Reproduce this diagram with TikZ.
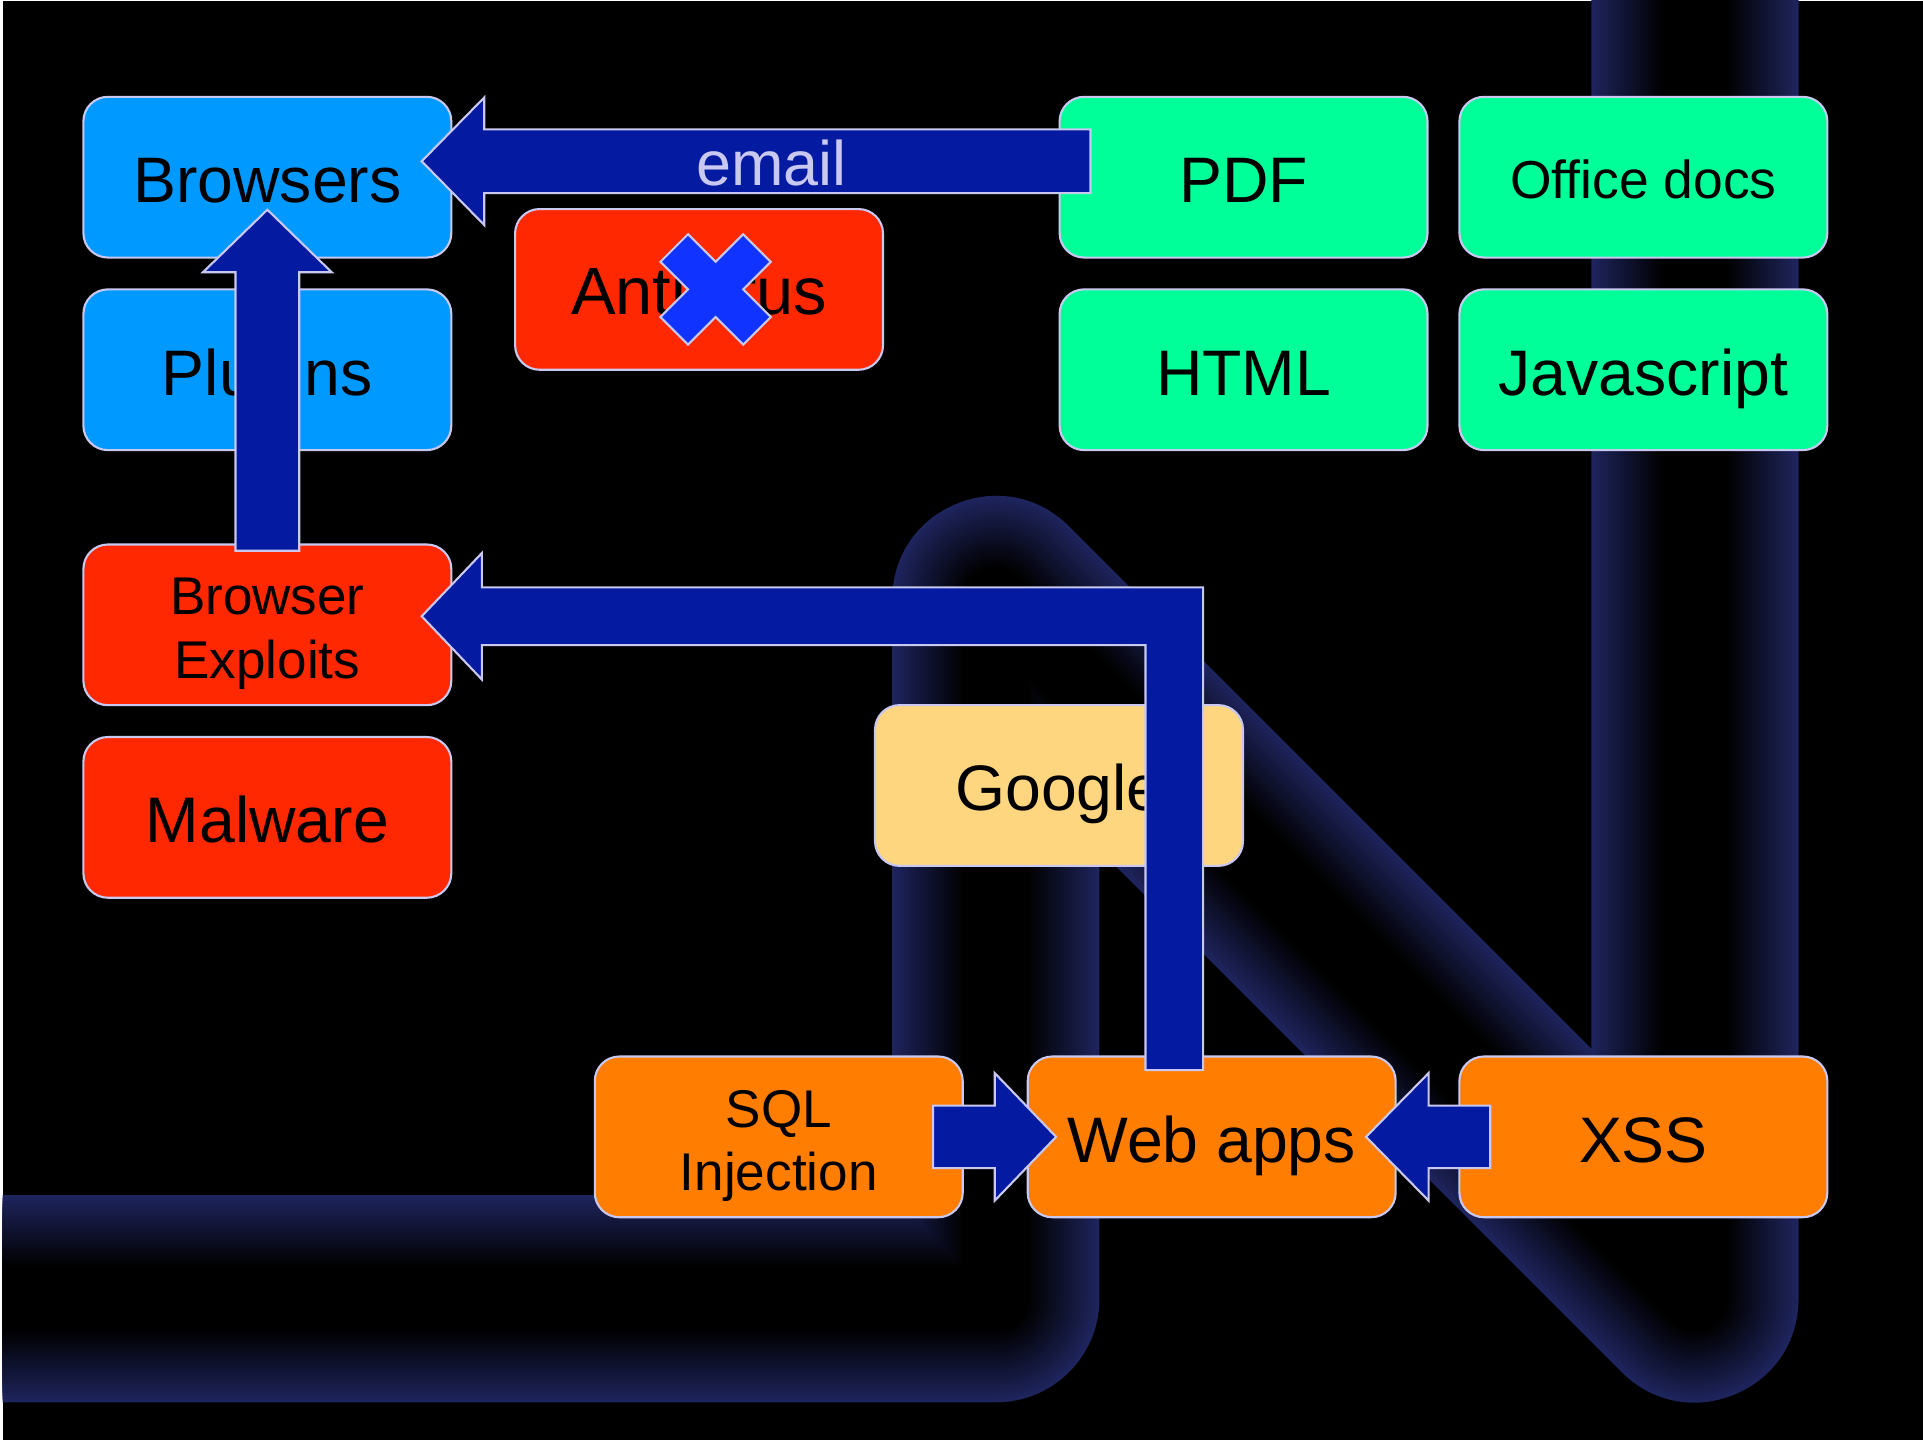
\documentclass[tikz,border=0pt]{standalone}
\usepackage{fontspec}
\setmainfont{Liberation Sans}
\usetikzlibrary{positioning,calc}

\definecolor{plugblue}{RGB}{0,153,255}
\definecolor{hotred}{RGB}{255,40,0}
\definecolor{mint}{RGB}{0,255,153}
\definecolor{webora}{RGB}{255,125,0}
\definecolor{sand}{RGB}{255,214,128}
\definecolor{arrowblue}{RGB}{4,26,160}
\definecolor{crossblue}{RGB}{16,51,255}
\definecolor{rim}{RGB}{200,200,240}
\definecolor{tubeblue}{RGB}{30,36,92}

\begin{document}
\begin{tikzpicture}[x=0.12264mm, y=-0.12264mm,
		tile/.style={shape=rectangle, rounded corners=2.45mm, draw=rim, line width=0.6pt,
			minimum width=36.79mm, minimum height=16.07mm, inner sep=0pt,
			font=\fontsize{18.3}{21}\selectfont, text height=14.5pt, text depth=0pt},
		smalltile/.style={tile, font=\fontsize{15.2}{18}\selectfont, text height=12pt},
		twoline/.style={tile, font=\fontsize{15.1}{18}\selectfont, text height=11pt, text depth=16.6pt},
		blockarrow/.style={fill=arrowblue, draw=rim, line width=0.6pt, line join=miter},
		crossmark/.style={fill=crossblue, draw=rim, line width=0.6pt}]
		\useasboundingbox (0,0) rectangle (1568,1174);
		\fill[white] (0,0) rectangle (1568,1174);
		\fill[black] (2.2,0.8) rectangle (1568,1174);

		\begin{scope}
			\clip (2.2,0.8) rectangle (1568,1174);
			\foreach \i [evaluate=\i as \w using 169-5*\i, evaluate=\i as \p using 100-100*\i/23] in {0,...,23}
				\draw[line width=\w*0.12264mm, draw=tubeblue!\p!black, line join=round]
					(-40,1059) -- (812,1059) -- (812,489) -- (1382,1059) -- (1382,-40);
		\end{scope}

		\node[tile, fill=plugblue] (browsers) at (218,144.5) {Browsers};
		\node[tile, fill=plugblue] (plugins) at (218,301.5) {Plugins};
		\node[twoline, fill=hotred] (exploits) at (218,509.5) {\begin{tabular}[t]{@{}c@{}}Browser\\Exploits\end{tabular}};
		\node[tile, fill=hotred] (malware) at (218,666.5) {Malware};
		\node[tile, fill=hotred, font=\fontsize{19}{22}\selectfont] (antivirus) at (570,236) {Antivirus};
		\node[tile, fill=mint] (pdf) at (1014,144.5) {PDF};
		\node[smalltile, fill=mint] (officedocs) at (1340,144.5) {Office docs};
		\node[tile, fill=mint] (html) at (1014,301.5) {HTML};
		\node[tile, fill=mint] (javascript) at (1340,301.5) {Javascript};
		\node[tile, fill=sand] (google) at (863.5,640.5) {Google};
		\node[twoline, fill=webora] (sqlinj) at (635,927) {\begin{tabular}[t]{@{}c@{}}SQL\\Injection\end{tabular}};
		\node[tile, fill=webora] (webapps) at (988,927) {Web apps};
		\node[tile, fill=webora] (xss) at (1340,927) {XSS};

		\coordinate (mailtip) at ($(browsers.east)+(-25,-13)$);
		\coordinate (mailend) at ($(pdf.west)+(26,-13)$);
		\draw[blockarrow] (mailtip) -- ++(51,-52) -- ++(0,26) -- ($(mailend)+(0,-26)$) -- ($(mailend)+(0,26)$)
			-- ($(mailtip)+(51,26)$) -- ++(0,26) -- cycle;
		\node[anchor=base, text=rim, font=\fontsize{17.9}{21}\selectfont] (maillabel) at (629,151.6) {email};

		\coordinate (uptip) at ($(browsers.center)+(0,26.5)$);
		\coordinate (upend) at ($(exploits.north)+(0,6)$);
		\draw[blockarrow] (uptip) -- ++(52.5,51) -- ++(-26.5,0) -- ($(upend)+(26,0)$) -- ($(upend)+(-26,0)$)
			-- ($(uptip)+(-26,51)$) -- ++(-26.5,0) -- cycle;

		\coordinate (backtip) at ($(exploits.east)+(-25,-7)$);
		\coordinate (backend) at ($(webapps.north)+(-30.5,12)$);
		\draw[blockarrow] (backtip) -- ++(49,-51.5) -- ++(0,28) -| ($(backend)+(23.5,0)$) -- ($(backend)+(-23.5,0)$)
			|- ($(backtip)+(49,23.5)$) -- ++(0,28) -- cycle;

		\coordinate (sqltip) at ($(webapps.west)+(24,0)$);
		\coordinate (sqlend) at ($(sqlinj.east)+(-25,0)$);
		\draw[blockarrow] (sqltip) -- ++(-50,-52) -- ++(0,26.5) -- ($(sqlend)+(0,-25.5)$) -- ($(sqlend)+(0,25.5)$)
			-- ($(sqltip)+(-50,25.5)$) -- ++(0,26.5) -- cycle;

		\coordinate (xsstip) at ($(webapps.east)+(-25,0)$);
		\coordinate (xssend) at ($(xss.west)+(26,0)$);
		\draw[blockarrow] (xsstip) -- ++(51,-52) -- ++(0,26.5) -- ($(xssend)+(0,-25.5)$) -- ($(xssend)+(0,25.5)$)
			-- ($(xsstip)+(51,25.5)$) -- ++(0,26.5) -- cycle;

		\coordinate (xc) at ($(antivirus.center)+(13.5,0)$);
		\draw[crossmark] ($(xc)+(0,-22.5)$) -- ++(22.5,-22.5) -- ++(22.5,22.5) -- ++(-22.5,22.5) -- ++(22.5,22.5)
			-- ++(-22.5,22.5) -- ++(-22.5,-22.5) -- ++(-22.5,22.5) -- ++(-22.5,-22.5) -- ++(22.5,-22.5)
			-- ++(-22.5,-22.5) -- ++(22.5,-22.5) -- cycle;
	\end{tikzpicture}
\end{document}
